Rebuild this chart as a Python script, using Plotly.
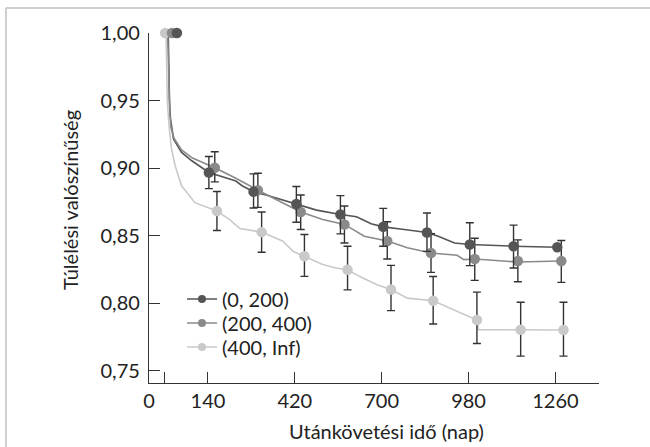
import plotly.graph_objects as go

# ---------------- data ----------------
series_names = ["(0, 200)", "(200, 400)", "(400, Inf)"]

# marker (time point) positions and survival estimates with confidence limits
dark_t = [40, 143, 287, 425, 567, 705, 846, 984, 1125, 1266]
dark_s = [1.00, 0.8968, 0.8826, 0.8735, 0.8658, 0.8566, 0.8524, 0.8435, 0.8423, 0.8415]
dark_hi = [None, 0.9087, 0.8958, 0.8864, 0.8797, 0.8703, 0.8668, 0.8596, 0.8579, None]
dark_lo = [None, 0.8849, 0.8706, 0.8600, 0.8514, 0.8423, 0.8385, 0.8279, 0.8262, None]

mid_t = [24, 162, 301, 439, 580, 718, 859, 1000, 1139, 1279]
mid_s = [1.00, 0.9003, 0.8837, 0.8676, 0.8584, 0.8462, 0.8373, 0.8328, 0.8313, 0.8313]
mid_hi = [None, 0.9122, 0.8963, 0.8802, 0.8720, 0.8604, 0.8515, 0.8482, 0.8470, 0.8465]
mid_lo = [None, 0.8899, 0.8710, 0.8547, 0.8447, 0.8328, 0.8229, 0.8170, 0.8160, 0.8155]

light_t = [2, 169, 313, 451, 590, 730, 866, 1007, 1148, 1286]
light_s = [1.00, 0.8683, 0.8527, 0.8348, 0.8249, 0.8103, 0.8019, 0.7877, 0.7805, 0.7803]
light_hi = [None, 0.8827, 0.8676, 0.8510, 0.8423, 0.8281, 0.8199, 0.8083, 0.8008, 0.8008]
light_lo = [None, 0.8539, 0.8378, 0.8200, 0.8100, 0.7946, 0.7847, 0.7703, 0.7610, 0.7610]

# survival curves
dark_curve_t = [12, 14, 16, 19, 29, 55, 88, 143, 190, 230, 250, 287, 330, 380, 425,
                 490, 567, 619, 666, 705, 773, 846, 882, 935, 984, 1050, 1125, 1266]
dark_curve_s = [1.00, 0.97, 0.95, 0.937, 0.9216, 0.9117, 0.9055, 0.8968, 0.8935, 0.8905,
                 0.8870, 0.8826, 0.8800, 0.8765, 0.8735, 0.8690, 0.8658, 0.8641, 0.8589,
                 0.8566, 0.8547, 0.8524, 0.8497, 0.8447, 0.8435, 0.8428, 0.8423, 0.8415]

mid_curve_t = [10, 12, 14, 17, 21, 31, 55, 90, 162, 230, 301, 350, 382, 439, 510, 580,
                644, 718, 783, 859, 943, 965, 1000, 1139, 1279]
mid_curve_s = [1.00, 0.975, 0.955, 0.94, 0.93, 0.922, 0.9135, 0.9075, 0.9003, 0.8925,
                0.8837, 0.8782, 0.8745, 0.8676, 0.8621, 0.8584, 0.8497, 0.8462, 0.8411,
                0.8373, 0.8356, 0.8324, 0.8328, 0.8306, 0.8313]

light_curve_t = [5, 7, 9, 14, 22, 34, 55, 98, 169, 210, 243, 313, 382, 414, 451, 510, 553,
                  590, 628, 685, 730, 783, 866, 1007, 1012, 1148, 1286]
light_curve_s = [1.00, 0.975, 0.95, 0.933, 0.915, 0.902, 0.887, 0.8745, 0.8683, 0.862, 0.8554,
                  0.8527, 0.8460, 0.8385, 0.8348, 0.8287, 0.8262, 0.8249, 0.8200, 0.8138,
                  0.8103, 0.8039, 0.8019, 0.7877, 0.7806, 0.7805, 0.7803]

x_tickvals = [-50, 0, 140, 420, 700, 980, 1260, 1400]
x_ticktext = ["0", "", "140", "420", "700", "980", "1260", ""]
y_tickvals = [0.75, 0.80, 0.85, 0.90, 0.95, 1.00]
y_ticktext = ["0,75", "0,80", "0,85", "0,90", "0,95", "1,00"]

x_title = "Utánkövetési idő (nap)"
y_title = "Túlélési valószínűség"

# ---------------- styling ----------------
colors = ["#555555", "#8a8a8a", "#c9c9c9"]
err_color = "#333333"
FONT = "Lato"
txt_color = "#222222"

fig = go.Figure()

curves = [(dark_curve_t, dark_curve_s), (mid_curve_t, mid_curve_s), (light_curve_t, light_curve_s)]
for (ct, cs), col in zip(curves, colors):
    fig.add_trace(go.Scatter(x=ct, y=cs, mode="lines", line=dict(color=col, width=1.6),
                             showlegend=False, hoverinfo="skip"))

pts = [(light_t, light_s, light_hi, light_lo, colors[2]),
       (mid_t, mid_s, mid_hi, mid_lo, colors[1]),
       (dark_t, dark_s, dark_hi, dark_lo, colors[0])]
for t, s, hi, lo, col in pts:
    plus = [None if h is None else h - v for h, v in zip(hi, s)]
    minus = [None if l is None else v - l for l, v in zip(lo, s)]
    fig.add_trace(go.Scatter(
        x=t, y=s, mode="markers",
        marker=dict(color=col, size=10.5),
        error_y=dict(type="data", array=plus, arrayminus=minus, symmetric=False,
                     color=err_color, thickness=1.4, width=4),
        showlegend=False, cliponaxis=False))

L, R, T, B = 149, 51, 33, 64
W, H = 650, 447
pw, ph = W - L - R, H - T - B

def px_to_paper_x(px):
    return (px - L) / pw

def px_to_paper_y(py):
    return (H - B - py) / ph

# legend-only entries, each in its own legend box so the row spacing matches
legend_ids = ["legend", "legend2", "legend3"]
legend_rows_px = [299, 323, 347]
for name, col, lid in zip(series_names, colors, legend_ids):
    fig.add_trace(go.Scatter(x=[None], y=[None], mode="lines+markers", name=name,
                             line=dict(color=col, width=1.6),
                             marker=dict(color=col, size=8), legend=lid))

legend_layout = {}
for lid, row in zip(legend_ids, legend_rows_px):
    legend_layout[lid] = dict(x=px_to_paper_x(182), y=px_to_paper_y(row), xanchor="left",
                              yanchor="middle", bgcolor="rgba(0,0,0,0)",
                              font=dict(size=20, color=txt_color, family=FONT),
                              itemwidth=30, borderwidth=0)

fig.update_layout(
    width=W, height=H,
    margin=dict(l=L, r=R, t=T, b=B, pad=0),
    paper_bgcolor="white", plot_bgcolor="white",
    font=dict(family=FONT, size=20, color=txt_color),
    showlegend=True,
    **legend_layout,
    xaxis=dict(range=[-50, 1400.5], tickvals=x_tickvals, ticktext=x_ticktext,
               ticks="inside", ticklen=11, tickwidth=1.3, tickcolor="#333",
               showline=True, linecolor="#333", linewidth=1.3, showgrid=False, zeroline=False,
               tickfont=dict(size=20, family=FONT, color=txt_color)),
    yaxis=dict(range=[0.7411, 1.0], tickvals=y_tickvals, ticktext=y_ticktext,
               ticks="inside", ticklen=11, tickwidth=1.3, tickcolor="#333",
               showline=True, linecolor="#333", linewidth=1.3, showgrid=False, zeroline=False,
               tickfont=dict(size=20, family=FONT, color=txt_color), ticklabelstandoff=4),
    annotations=[
        dict(text=x_title, xref="paper", yref="paper", x=px_to_paper_x(386), y=px_to_paper_y(431),
             showarrow=False, xanchor="center", yanchor="middle",
             font=dict(size=20, family=FONT, color=txt_color)),
        dict(text=y_title, xref="paper", yref="paper", x=px_to_paper_x(70), y=px_to_paper_y(200),
             showarrow=False, xanchor="center", yanchor="middle", textangle=-90,
             font=dict(size=20, family=FONT, color=txt_color)),
    ],
    shapes=[
        dict(type="line", xref="paper", yref="paper", layer="above",
             x0=px_to_paper_x(6), x1=px_to_paper_x(660),
             y0=px_to_paper_y(8), y1=px_to_paper_y(8), line=dict(color="#cfcfcf", width=2)),
        dict(type="line", xref="paper", yref="paper", layer="above",
             x0=px_to_paper_x(6), x1=px_to_paper_x(6),
             y0=px_to_paper_y(8), y1=px_to_paper_y(460), line=dict(color="#cfcfcf", width=2)),
    ],
)

fig.write_html(
    "out.html",
    config={"displayModeBar": False},
    post_script="document.body.style.margin='0';document.body.style.overflow='hidden';",
)
